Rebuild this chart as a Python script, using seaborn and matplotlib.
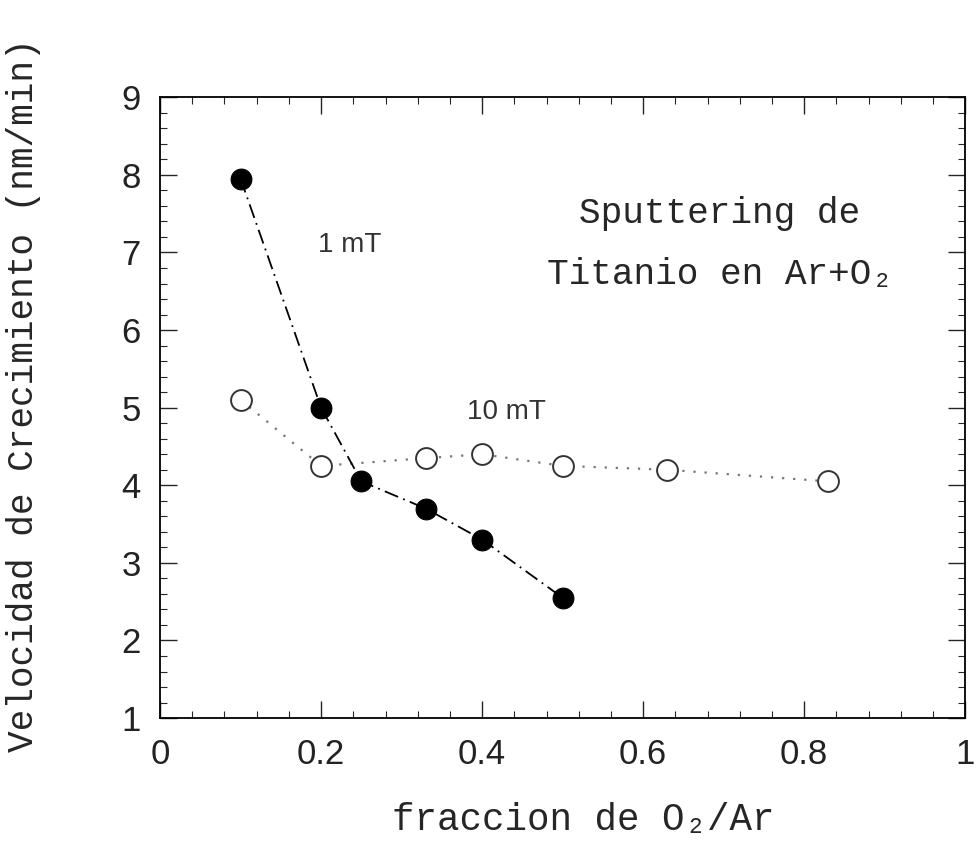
import matplotlib
matplotlib.use("Agg")
import matplotlib.pyplot as plt
from matplotlib.ticker import MultipleLocator
import seaborn as sns
import pandas as pd

# Data
x_1mT = [0.10, 0.20, 0.25, 0.33, 0.40, 0.50]
y_1mT = [7.95, 5.0, 4.05, 3.7, 3.3, 2.55]
x_10mT = [0.10, 0.20, 0.33, 0.40, 0.50, 0.63, 0.83]
y_10mT = [5.1, 4.25, 4.35, 4.4, 4.25, 4.2, 4.05]
xticks = [0, 0.2, 0.4, 0.6, 0.8, 1]
xticklabels = ["0", "0.2", "0.4", "0.6", "0.8", "1"]
yticks = [1, 2, 3, 4, 5, 6, 7, 8, 9]

sns.set_style("ticks")
mono = ["Liberation Mono", "DejaVu Sans Mono"]
narrow = ["Liberation Sans Narrow", "Liberation Sans", "DejaVu Sans"]

fig = plt.figure(figsize=(9.76, 8.61), dpi=100)
ax = fig.add_axes([0.164, 0.166, 0.825, 0.721])

df1 = pd.DataFrame({"x": x_1mT, "y": y_1mT})
df2 = pd.DataFrame({"x": x_10mT, "y": y_10mT})

sns.lineplot(data=df2, x="x", y="y", ax=ax, color="#777777", linestyle=(0, (1, 4)),
             linewidth=1.6, marker="o", markersize=15, markerfacecolor="white",
             markeredgecolor="#333333", markeredgewidth=1.4, zorder=2)
sns.lineplot(data=df1, x="x", y="y", ax=ax, color="black", linestyle=(0, (8, 3, 1, 3)),
             linewidth=1.3, marker="o", markersize=15, markerfacecolor="black",
             markeredgecolor="black", zorder=3)

ax.set_xlim(0, 1)
ax.set_ylim(1, 9)
ax.set_xticks(xticks)
ax.set_xticklabels(xticklabels, family=narrow, fontsize=25, color="#222222")
ax.set_yticks(yticks)
ax.set_yticklabels([str(v) for v in yticks], family=narrow, fontsize=25, color="#222222")
ax.xaxis.set_minor_locator(MultipleLocator(0.04))
ax.yaxis.set_minor_locator(MultipleLocator(0.2))
ax.tick_params(which="major", direction="in", length=12, width=1.0, top=True, right=True, pad=14)
ax.tick_params(which="minor", direction="in", length=5, width=0.8, top=True, right=True)
for s in ax.spines.values():
    s.set_linewidth(1.3)
    s.set_color("black")

ax.set_xlabel("fraccion de O\u2082/Ar", family=mono, fontsize=27)
ax.xaxis.set_label_coords(0.525, -0.135)
ax.set_ylabel("Velocidad de Crecimiento (nm/min)", family=mono, fontsize=26)
ax.yaxis.set_label_coords(-0.148, 0.52)

ax.text(0.235, 7.1, "1 mT", family=narrow, fontsize=20, color="#333333",
        ha="center", va="center")
ax.text(0.43, 4.95, "10 mT", family=narrow, fontsize=20, color="#333333",
        ha="center", va="center")
ax.text(0.695, 7.5, "Sputtering de", family=mono, fontsize=26, ha="center", va="center")
ax.text(0.695, 6.72, "Titanio en Ar+O\u2082", family=mono, fontsize=26, ha="center", va="center")

fig.savefig("out.png", dpi=100)
